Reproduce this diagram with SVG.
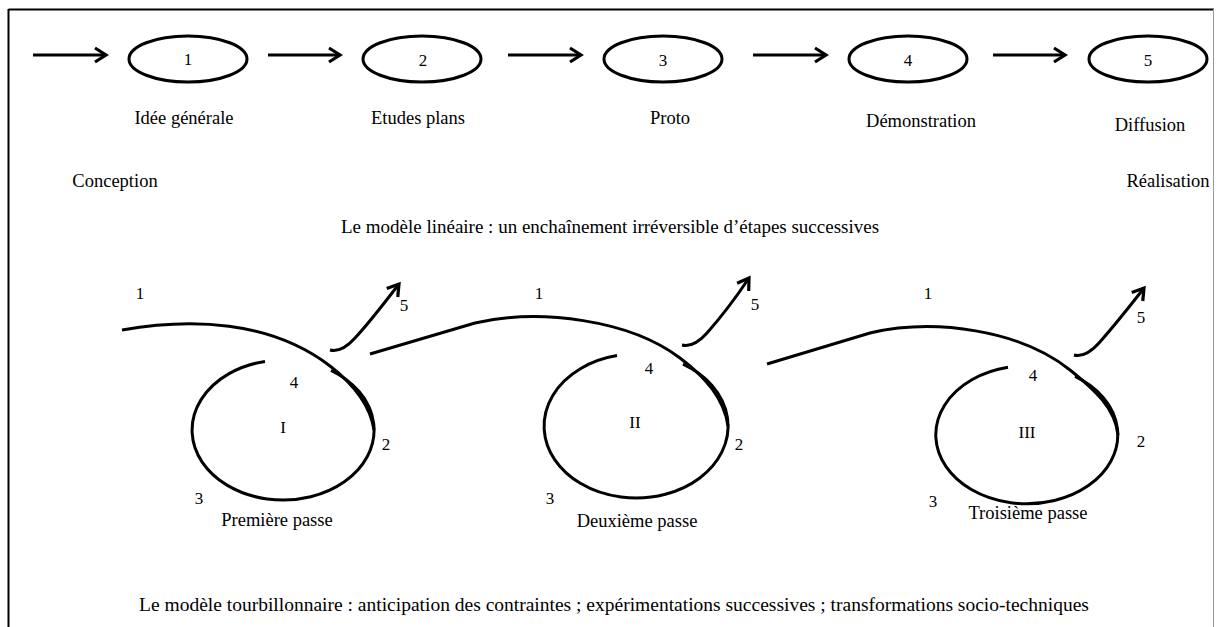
<svg xmlns="http://www.w3.org/2000/svg" width="1220" height="627" viewBox="0 0 1220 627">
<defs>
<style>
.t{font-family:"Liberation Serif","Times New Roman",serif;font-size:18.5px;fill:#000;text-anchor:middle;dominant-baseline:central}
.n{font-family:"Liberation Serif","Times New Roman",serif;font-size:17px;fill:#000;text-anchor:middle;dominant-baseline:central}
.s{fill:none;stroke:#000;stroke-width:3}
.e{fill:#fff;stroke:#000;stroke-width:3}
</style>
<marker id="ah" markerUnits="userSpaceOnUse" markerWidth="20" markerHeight="20" viewBox="-12 -10 14 20" refX="0" refY="0" orient="auto">
<path d="M-11,-7 L0,0 L-11,7" fill="none" stroke="#000" stroke-width="3.2"/>
</marker>
</defs>
<rect width="1220" height="627" fill="#fff"/>
<g id="frame">
<line x1="8.5" y1="9.5" x2="1214" y2="9.5" stroke="#000" stroke-width="2"/>
<line x1="8.5" y1="9" x2="8.5" y2="627" stroke="#000" stroke-width="2"/>
<line x1="1213.5" y1="9" x2="1213.5" y2="627" stroke="#999" stroke-width="1"/>
</g>
<g id="connectors">
<line class="s" x1="33" y1="55" x2="106" y2="55" marker-end="url(#ah)"/>
<line class="s" x1="268" y1="55" x2="340" y2="55" marker-end="url(#ah)"/>
<line class="s" x1="508" y1="55" x2="581" y2="55" marker-end="url(#ah)"/>
<line class="s" x1="753" y1="55" x2="826" y2="55" marker-end="url(#ah)"/>
<line class="s" x1="993" y1="55" x2="1065" y2="55" marker-end="url(#ah)"/>
<path class="s" d="M330,350 C338,352 346,348 355,338 C370,322 385,302 399,284" marker-end="url(#ah)"/>
<path class="s" d="M682,345 C690,347 698,343 707,333 C722,316 737,296 749,278" marker-end="url(#ah)"/>
<path class="s" d="M1074,355 C1082,357 1090,353 1099,343 C1114,326 1130,306 1144,288" marker-end="url(#ah)"/>
</g>
<g id="node-1"><ellipse class="e" cx="188" cy="59" rx="59" ry="23"/><text class="n" x="188" y="59">1</text></g>
<g id="node-2"><ellipse class="e" cx="422" cy="59" rx="59" ry="23"/><text class="n" x="423" y="60">2</text></g>
<g id="node-3"><ellipse class="e" cx="663" cy="59" rx="59" ry="23"/><text class="n" x="663" y="60">3</text></g>
<g id="node-4"><ellipse class="e" cx="908" cy="59" rx="59" ry="23"/><text class="n" x="908" y="60">4</text></g>
<g id="node-5"><ellipse class="e" cx="1148" cy="59" rx="59" ry="23"/><text class="n" x="1148" y="60">5</text></g>
<g id="labels-linear">
<text class="t" x="184" y="118">Idée générale</text>
<text class="t" x="418" y="118">Etudes plans</text>
<text class="t" x="670" y="118">Proto</text>
<text class="t" x="921" y="121">Démonstration</text>
<text class="t" x="1150" y="125">Diffusion</text>
<text class="t" x="115" y="181">Conception</text>
<text class="t" x="1168" y="181">Réalisation</text>
<text class="t" x="610" y="226" style="font-size:19px">Le modèle linéaire : un enchaînement irréversible d’étapes successives</text>
</g>
<g id="swirl-1">
<path class="s" d="M122,330 C190,318 270,320 330,366 C352,383 370,403 374,430"/>
<path class="s" d="M265,361.4 A91,70 0 1 0 331,370.5"/>
<text class="n" x="140" y="293">1</text>
<text class="n" x="404" y="305">5</text>
<text class="n" x="294" y="382">4</text>
<text class="n" x="283" y="427">I</text>
<text class="n" x="386" y="444">2</text>
<text class="n" x="199" y="498">3</text>
<text class="t" x="277" y="520">Première passe</text>
</g>
<g id="swirl-2">
<path class="s" d="M370,354 L475,323 C540,308 630,320 680,358 C705,377 724,398 728,426"/>
<path class="s" d="M617,355.6 A92,72 0 1 0 683,364.1"/>
<text class="n" x="539" y="293">1</text>
<text class="n" x="755" y="304">5</text>
<text class="n" x="649" y="368">4</text>
<text class="n" x="635" y="422">II</text>
<text class="n" x="739" y="444">2</text>
<text class="n" x="550" y="498">3</text>
<text class="t" x="637" y="521">Deuxième passe</text>
</g>
<g id="swirl-3">
<path class="s" d="M767,364 L870,333 C935,318 1020,330 1070,370 C1095,390 1115,408 1118,435"/>
<path class="s" d="M1008,367.3 A91,69 0 1 0 1075,376.3"/>
<text class="n" x="928" y="293">1</text>
<text class="n" x="1141" y="317">5</text>
<text class="n" x="1033" y="375">4</text>
<text class="n" x="1027" y="432">III</text>
<text class="n" x="1141" y="441">2</text>
<text class="n" x="933" y="501">3</text>
<text class="t" x="1028" y="513">Troisième passe</text>
</g>
<g id="caption">
<text class="t" x="614" y="604" style="font-size:19.5px">Le modèle tourbillonnaire : anticipation des contraintes ; expérimentations successives ; transformations socio-techniques</text>
</g>
</svg>
